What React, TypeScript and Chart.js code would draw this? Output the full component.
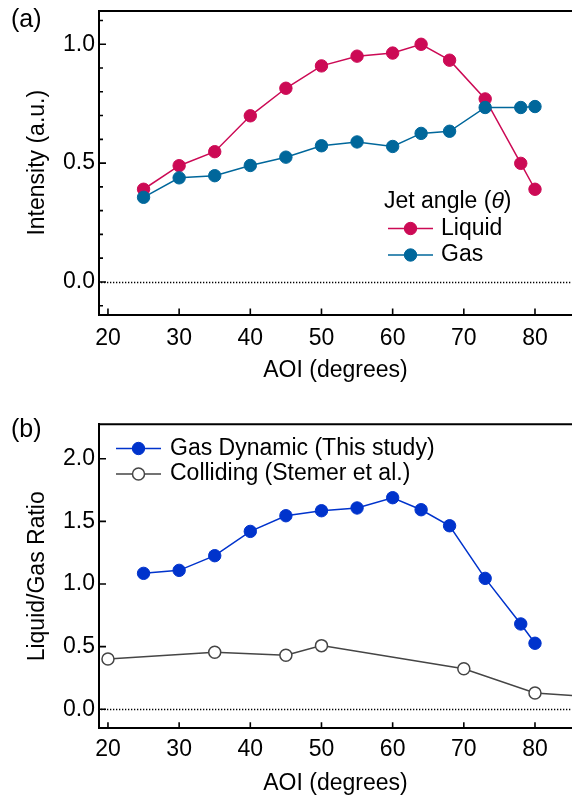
import React, { useEffect, useRef } from 'react';
import { Chart, registerables } from 'chart.js';

Chart.register(...registerables);

// ---------- data ----------
const aoi = [25, 30, 35, 40, 45, 50, 55, 60, 64, 68, 73, 78, 80];
const liquid = [0.39, 0.489, 0.548, 0.699, 0.815, 0.909, 0.95, 0.963, 1.0, 0.933, 0.77, 0.499, 0.39];
const gas = [0.356, 0.438, 0.447, 0.49, 0.525, 0.573, 0.589, 0.57, 0.625, 0.634, 0.734, 0.734, 0.738];
const ratio = [1.085, 1.109, 1.226, 1.42, 1.545, 1.585, 1.607, 1.689, 1.593, 1.465, 1.045, 0.681, 0.527];
const collidingAoi = [20, 35, 45, 50, 70, 80, 90];
const colliding = [0.401, 0.455, 0.431, 0.508, 0.324, 0.13, 0.09];

const xTicks = [20, 30, 40, 50, 60, 70, 80];
const yTicksA = [0, 0.5, 1.0];
const yMinorA = [-0.1, 0.1, 0.2, 0.3, 0.4, 0.6, 0.7, 0.8, 0.9, 1.1];
const yTicksB = [0, 0.5, 1.0, 1.5, 2.0];

const FONT = "'Liberation Sans', Arial, Helvetica, sans-serif";
const FS = 23;
const PINK = '#cc0a55';
const TEAL = '#00679b';
const BLUE = '#0033cc';
const GRAY = '#454545';

const decorPlugin = {
  id: 'decor',
  beforeDatasetsDraw(chart: any) {
    const { ctx, chartArea: a, scales } = chart;
    const py = Math.round(scales.y.getPixelForValue(0)) + 0.5;
    ctx.save();
    ctx.strokeStyle = '#000';
    ctx.lineWidth = 1.3;
    ctx.setLineDash([1.3, 1.7]);
    ctx.beginPath();
    ctx.moveTo(a.left + 2, py);
    ctx.lineTo(a.right, py);
    ctx.stroke();
    ctx.restore();
  },
  afterDraw(chart: any, _a: any, opts: any) {
    const { ctx, chartArea: a, scales } = chart;
    const x = scales.x;
    const y = scales.y;
    ctx.save();
    ctx.strokeStyle = '#000';
    ctx.setLineDash([]);
    ctx.lineWidth = 1.6;
    ctx.beginPath();
    for (const v of opts.xMajor) {
      const px = x.getPixelForValue(v);
      ctx.moveTo(px, a.bottom);
      ctx.lineTo(px, a.bottom - 6);
    }
    for (const v of opts.yMajor) {
      const py = y.getPixelForValue(v);
      ctx.moveTo(a.left, py);
      ctx.lineTo(a.left + 7, py);
    }
    for (const v of opts.yMinor || []) {
      const py = y.getPixelForValue(v);
      ctx.moveTo(a.left, py);
      ctx.lineTo(a.left + 4, py);
    }
    ctx.stroke();
    // top frame line
    ctx.lineWidth = 2;
    ctx.beginPath();
    ctx.moveTo(a.left - 1, a.top);
    ctx.lineTo(chart.width, a.top);
    ctx.stroke();

    // panel label
    ctx.fillStyle = '#000';
    ctx.font = `25px ${FONT}`;
    ctx.textBaseline = 'middle';
    ctx.textAlign = 'left';
    ctx.fillText(opts.panel, 11, opts.panelY);

    // legend
    const lg = opts.legend;
    ctx.font = `${FS}px ${FONT}`;
    if (lg.title) {
      let tx = lg.titleX;
      const parts = lg.title as { text: string; italic?: boolean }[];
      for (const p of parts) {
        ctx.font = `${p.italic ? 'italic ' : ''}${FS}px ${FONT}`;
        ctx.fillText(p.text, tx, lg.titleY);
        tx += ctx.measureText(p.text).width;
      }
      ctx.font = `${FS}px ${FONT}`;
    }
    lg.rows.forEach((rowY: number, i: number) => {
      const ds = chart.data.datasets[lg.order[i]];
      ctx.strokeStyle = ds.borderColor;
      ctx.lineWidth = ds.borderWidth;
      ctx.beginPath();
      ctx.moveTo(lg.lineX1, rowY);
      ctx.lineTo(lg.lineX2, rowY);
      ctx.stroke();
      ctx.beginPath();
      ctx.arc((lg.lineX1 + lg.lineX2) / 2, rowY, ds.pointRadius, 0, Math.PI * 2);
      ctx.fillStyle = ds.pointBackgroundColor;
      ctx.fill();
      ctx.lineWidth = ds.pointBorderWidth;
      ctx.strokeStyle = ds.pointBorderColor;
      ctx.stroke();
      ctx.fillStyle = '#000';
      ctx.fillText(ds.label, lg.textX, rowY);
    });
    ctx.restore();
  },
};

function makeOptions(p: {
  yMin: number; yMax: number; yTicks: number[]; yMinor?: number[]; yTitle: string;
  xAxisH: number; padTop: number; tickPad: number; xTitlePad: number;
  panel: string; panelY: number; legend: any;
}) {
  return {
    responsive: false,
    animation: false as const,
    layout: { autoPadding: false, padding: { top: p.padTop, right: 0, left: 0, bottom: 0 } },
    plugins: {
      legend: { display: false },
      tooltip: { enabled: false },
      decor: { xMajor: xTicks, yMajor: p.yTicks, yMinor: p.yMinor, panel: p.panel, panelY: p.panelY, legend: p.legend },
    },
    scales: {
      x: {
        type: 'linear' as const,
        min: 18.74,
        max: 85.2,
        grid: { display: false, drawTicks: false },
        border: { display: true, color: '#000', width: 2 },
        ticks: {
          color: '#000',
          padding: p.tickPad,
          font: { family: FONT, size: FS },
          callback: (v: any) => String(v),
        },
        afterBuildTicks: (s: any) => { s.ticks = xTicks.map((v) => ({ value: v })); },
        afterFit: (s: any) => { s.height = p.xAxisH; s.paddingLeft = 0; s.paddingRight = 0; },
        title: {
          display: true,
          text: 'AOI (degrees)',
          color: '#000',
          font: { family: FONT, size: FS },
          padding: { top: 0, bottom: p.xTitlePad },
        },
      },
      y: {
        type: 'linear' as const,
        min: p.yMin,
        max: p.yMax,
        grid: { display: false, drawTicks: false },
        border: { display: true, color: '#000', width: 2 },
        ticks: {
          color: '#000',
          padding: 4,
          font: { family: FONT, size: FS },
          callback: (v: any) => Number(v).toFixed(1),
        },
        afterBuildTicks: (s: any) => { s.ticks = p.yTicks.map((v) => ({ value: v })); },
        afterFit: (s: any) => { s.width = 99; s.paddingTop = 0; s.paddingBottom = 0; },
        title: {
          display: true,
          text: p.yTitle,
          color: '#000',
          font: { family: FONT, size: FS },
          padding: { top: 24, bottom: 0 },
        },
      },
    },
  };
}

export default function App() {
  const refA = useRef<HTMLCanvasElement>(null);
  const refB = useRef<HTMLCanvasElement>(null);

  useEffect(() => {
    const chartA = new Chart(refA.current!, {
      type: 'line',
      data: {
        datasets: [
          {
            label: 'Liquid',
            data: aoi.map((x, i) => ({ x, y: liquid[i] })),
            borderColor: PINK,
            backgroundColor: PINK,
            pointBackgroundColor: PINK,
            pointBorderColor: PINK,
            pointBorderWidth: 1,
            pointRadius: 6.2,
            borderWidth: 1.5,
            order: 1,
          },
          {
            label: 'Gas',
            data: aoi.map((x, i) => ({ x, y: gas[i] })),
            borderColor: TEAL,
            backgroundColor: TEAL,
            pointBackgroundColor: TEAL,
            pointBorderColor: TEAL,
            pointBorderWidth: 1,
            pointRadius: 6.2,
            borderWidth: 1.5,
            order: 0,
          },
        ],
      },
      options: makeOptions({
        yMin: -0.137, yMax: 1.14, yTicks: yTicksA, yMinor: yMinorA, yTitle: 'Intensity (a.u.)',
        xAxisH: 85.5, padTop: 11, tickPad: 10, xTitlePad: 16,
        panel: '(a)', panelY: 20,
        legend: {
          title: [{ text: 'Jet angle (' }, { text: 'θ', italic: true }, { text: ')' }],
          titleX: 384, titleY: 202,
          rows: [228.5, 255],
          order: [0, 1],
          lineX1: 388, lineX2: 433, textX: 441,
        },
      }) as any,
      plugins: [decorPlugin],
    });

    const chartB = new Chart(refB.current!, {
      type: 'line',
      data: {
        datasets: [
          {
            label: 'Gas Dynamic (This study)',
            data: aoi.map((x, i) => ({ x, y: ratio[i] })),
            borderColor: BLUE,
            backgroundColor: BLUE,
            pointBackgroundColor: BLUE,
            pointBorderColor: BLUE,
            pointBorderWidth: 1,
            pointRadius: 6.2,
            borderWidth: 1.5,
            order: 0,
          },
          {
            label: 'Colliding (Stemer et al.)',
            data: collidingAoi.map((x, i) => ({ x, y: colliding[i] })),
            borderColor: GRAY,
            backgroundColor: '#fff',
            pointBackgroundColor: '#fff',
            pointBorderColor: GRAY,
            pointBorderWidth: 1.5,
            pointRadius: 6,
            borderWidth: 1.5,
            order: 1,
          },
        ],
      },
      options: makeOptions({
        yMin: -0.152, yMax: 2.275, yTicks: yTicksB, yTitle: 'Liquid/Gas Ratio',
        xAxisH: 69.7, padTop: 24.3, tickPad: 8, xTitlePad: 1,
        panel: '(b)', panelY: 30,
        legend: {
          rows: [48.5, 74],
          order: [0, 1],
          lineX1: 116, lineX2: 161, textX: 170,
        },
      }) as any,
      plugins: [decorPlugin],
    });

    return () => {
      chartA.destroy();
      chartB.destroy();
    };
  }, []);

  return (
    <div style={{ position: 'absolute', left: 0, top: 0, width: 572, height: 798, overflow: 'hidden', background: '#fff' }}>
      <canvas ref={refA} width={572} height={400} style={{ position: 'absolute', left: 0, top: 0, width: 572, height: 400 }} />
      <canvas ref={refB} width={572} height={398} style={{ position: 'absolute', left: 0, top: 400, width: 572, height: 398 }} />
    </div>
  );
}
